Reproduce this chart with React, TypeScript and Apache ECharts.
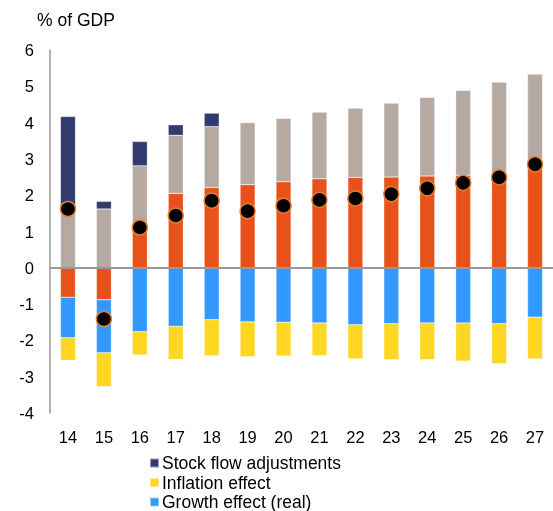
import React, { useEffect, useRef } from "react";
import * as echarts from "echarts";

const categories = ["14", "15", "16", "17", "18", "19", "20", "21", "22", "23", "24", "25", "26", "27"];
const interestEffect = [-0.81, -0.88, 1.12, 2.05, 2.21, 2.29, 2.37, 2.45, 2.49, 2.5, 2.53, 2.55, 2.58, 2.88];
const primaryDeficit = [1.68, 1.62, 1.69, 1.6, 1.68, 1.71, 1.75, 1.84, 1.91, 2.04, 2.17, 2.34, 2.54, 2.46];
const stockFlow = [2.49, 0.21, 0.67, 0.29, 0.37, 0, 0, 0, 0, 0, 0, 0, 0, 0];
const growthEffect = [-1.12, -1.46, -1.76, -1.61, -1.43, -1.49, -1.5, -1.52, -1.57, -1.54, -1.52, -1.52, -1.54, -1.36];
const inflationEffect = [-0.62, -0.93, -0.64, -0.91, -0.99, -0.96, -0.93, -0.9, -0.94, -0.99, -1.01, -1.05, -1.1, -1.15];
const changeInDebt = [1.62, -1.41, 1.11, 1.44, 1.85, 1.56, 1.71, 1.87, 1.91, 2.03, 2.19, 2.34, 2.49, 2.85];
const legendNames = ["Stock flow adjustments", "Inflation effect", "Growth effect (real)"];
const yTicks = { min: -4, max: 6, interval: 1 };

const FONT = "'Liberation Sans', Arial, sans-serif";

export default function App() {
  const ref = useRef<HTMLDivElement>(null);
  useEffect(() => {
    if (!ref.current) return;
    const chart = echarts.init(ref.current, null, { renderer: "svg" });
    const barBase = {
      type: "bar" as const,
      stack: "total",
      barWidth: 15,
      itemStyle: { borderColor: "rgba(255,255,255,0.5)", borderWidth: 0.5 },
    };
    chart.setOption({
      animation: false,
      textStyle: { fontFamily: FONT },
      grid: { left: 50, right: 0, top: 50, bottom: 98 },
      graphic: [
        {
          type: "text",
          left: 37,
          top: 11,
          style: { text: "% of GDP", font: `17.5px ${FONT}`, fill: "#000" },
        },
      ],
      legend: legendNames.map((name, i) => ({
        data: [name],
        orient: "vertical",
        left: 149,
        top: 454 + i * 19.5,
        padding: 0,
        itemWidth: 9,
        itemHeight: 9,
        icon: "rect",
        textStyle: { fontSize: 17.5, color: "#000", fontFamily: FONT, padding: [0, 0, 0, -2] },
      })),
      xAxis: {
        type: "category",
        data: categories,
        axisLine: { show: false },
        axisTick: { show: false },
        axisLabel: { fontSize: 16.5, color: "#000", margin: 15, fontFamily: FONT },
      },
      yAxis: {
        type: "value",
        min: yTicks.min,
        max: yTicks.max,
        interval: yTicks.interval,
        splitLine: { show: false },
        axisLine: { show: true, lineStyle: { color: "#999", width: 1.5 } },
        axisTick: { show: false },
        axisLabel: { fontSize: 16.5, color: "#000", margin: 16, fontFamily: FONT },
      },
      series: [
        {
          ...barBase,
          name: "Interest rate effect",
          data: interestEffect,
          itemStyle: { ...barBase.itemStyle, color: "#e8521a" },
          markLine: {
            silent: true,
            symbol: "none",
            label: { show: false },
            lineStyle: { color: "#999", width: 2, type: "solid" },
            data: [{ yAxis: 0 }],
          },
        },
        {
          ...barBase,
          name: "Primary deficit",
          data: primaryDeficit,
          itemStyle: { ...barBase.itemStyle, color: "#b6a9a1" },
        },
        {
          ...barBase,
          name: "Stock flow adjustments",
          data: stockFlow,
          itemStyle: { ...barBase.itemStyle, color: "#333a6e" },
        },
        {
          ...barBase,
          name: "Growth effect (real)",
          data: growthEffect,
          itemStyle: { ...barBase.itemStyle, color: "#3399ff" },
        },
        {
          ...barBase,
          name: "Inflation effect",
          data: inflationEffect,
          itemStyle: { ...barBase.itemStyle, color: "#ffd622" },
        },
        {
          type: "scatter",
          name: "Change in debt",
          data: changeInDebt,
          symbol: "circle",
          symbolSize: 15,
          z: 5,
          itemStyle: { color: "#000", borderColor: "#e2802f", borderWidth: 1.5, opacity: 1 },
        },
      ],
    });
    return () => chart.dispose();
  }, []);
  return (
    <div
      ref={ref}
      style={{ position: "fixed", left: 0, top: 0, width: 553, height: 511 }}
    />
  );
}
